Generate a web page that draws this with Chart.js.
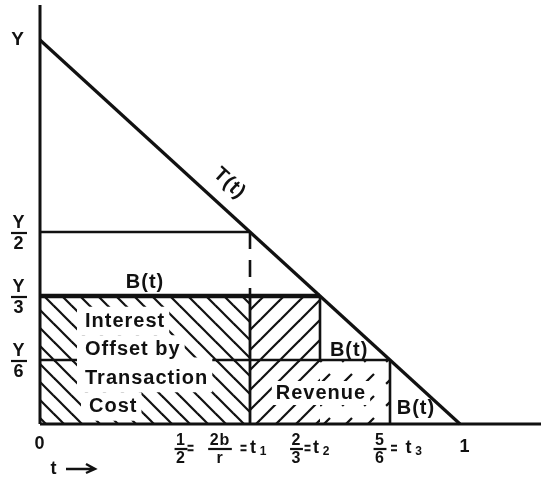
<!DOCTYPE html>
<html>
<head>
<meta charset="utf-8">
<script src="https://cdn.jsdelivr.net/npm/chart.js@4.4.0/dist/chart.umd.min.js"></script>
<style>
html,body{margin:0;padding:0;background:#fff;}
canvas{display:block;}
</style>
</head>
<body>
<canvas id="cashChart" width="541" height="477"></canvas>
<script>
// points in the pay period where bonds are sold (share of the period)
const tPoints = [0, 1/2, 2/3, 5/6, 1];
// cash balance steps B(t), as a share of income Y
const bLevels = [1/2, 1/3, 1/6];
// income at the start of the period, T(t) falls from Y to 0
const incomeStart = 1;

const yTickValues = [1, 1/2, 1/3, 1/6];
const yTickLabels = [["Y"], ["Y","2"], ["Y","3"], ["Y","6"]];

const xTickValues = [0, 1/2, 2/3, 5/6, 1];
const xTickLabels = [
["0"],
[{frac:["1","2"]}, "=", {frac:["2b","r"]}, "=", {sub:["t","1"]}],
[{frac:["2","3"]}, "=", {sub:["t","2"]}],
[{frac:["5","6"]}, "=", {sub:["t","3"]}],
["1"]
];

const areaLabels = ["Interest", "Offset by", "Transaction", "Cost"];
const revenueLabel = "Revenue";
const balanceLabel = "B(t)";
const incomeLabel = "T(t)";

const INK = "#111";
const FONT = '"Liberation Sans", Arial, sans-serif';

/* hatch patterns */

function hatch(size, dir, width, dash){
const c = document.createElement("canvas");
c.width = size;
c.height = size;
const g = c.getContext("2d");
g.strokeStyle = INK;
g.lineWidth = width;
g.lineCap = "butt";
if(dash){
g.setLineDash(dash);
}
for(let k = -1; k <= 1; k++){
g.beginPath();
if(dir === "back"){
g.moveTo(k*size - size, -size);
g.lineTo(k*size + 2*size, 2*size);
}else{
g.moveTo(k*size + 2*size, -size);
g.lineTo(k*size - size, 2*size);
}
g.stroke();
}
return g.createPattern(c, "repeat");
}

const backHatch = hatch(18, "back", 2.2);
const fwdHatch = hatch(20, "fwd", 2.2);
const dashHatch = hatch(22, "fwd", 2.2, [14, 17.1]);

/* datasets */

function seg(points, width, extra){
return Object.assign({
data: points.map(p => ({x:p[0], y:p[1]})),
borderColor: INK,
borderWidth: width,
pointRadius: 0,
tension: 0,
fill: false,
clip: false,
order: 1
}, extra || {});
}

function area(x0, x1, top, pattern){
return {
data: [{x:x0, y:top}, {x:x1, y:top}],
borderWidth: 0,
borderColor: "rgba(0,0,0,0)",
backgroundColor: pattern,
pointRadius: 0,
fill: "origin",
order: 5
};
}

const xMax = 501 / 420;
const yMax = 419 / 384;

const datasets = [
area(tPoints[0], tPoints[1], bLevels[1], backHatch),
area(tPoints[1], tPoints[2], bLevels[1], fwdHatch),
area(tPoints[2], tPoints[3], bLevels[2], dashHatch),

// axes
seg([[0,0],[0,yMax]], 3),
seg([[0,0],[xMax,0]], 3),

// T(t)
seg([[0,incomeStart],[tPoints[4],0]], 3.2),

// B(t) steps
seg([[0,bLevels[0]],[tPoints[1],bLevels[0]]], 2.6),
seg([[0,bLevels[1]],[tPoints[2],bLevels[1]]], 4.5),
seg([[0,bLevels[2]],[tPoints[3],bLevels[2]]], 2.6),

seg([[tPoints[1],bLevels[0]],[tPoints[1],bLevels[1]]], 2.6, {borderDash:[17,11]}),
seg([[tPoints[1],bLevels[1]],[tPoints[1],0]], 2.8),
seg([[tPoints[2],bLevels[1]],[tPoints[2],bLevels[2]]], 2.6),
seg([[tPoints[3],bLevels[2]],[tPoints[3],0]], 2.6)
];

/* lettering */

function put(ctx, s, x, y, size, align){
ctx.font = "bold " + size + "px " + FONT;
ctx.textAlign = align || "center";
ctx.textBaseline = "middle";
ctx.fillText(s, x, y);
}

function fraction(ctx, top, bottom, cx, cy, size){
put(ctx, top, cx, cy - size*0.55, size);
put(ctx, bottom, cx, cy + size*0.62, size);
ctx.font = "bold " + size + "px " + FONT;
const half = Math.max(
ctx.measureText(top).width,
ctx.measureText(bottom).width
) / 2 + 1.5;
ctx.lineWidth = 2.2;
ctx.beginPath();
ctx.moveTo(cx - half, cy);
ctx.lineTo(cx + half, cy);
ctx.stroke();
}

function equals(ctx, cx, cy){
ctx.lineWidth = 2;
ctx.beginPath();
ctx.moveTo(cx - 3, cy - 2.2);
ctx.lineTo(cx + 3, cy - 2.2);
ctx.moveTo(cx - 3, cy + 2.2);
ctx.lineTo(cx + 3, cy + 2.2);
ctx.stroke();
}

// x offsets of each piece of the tick label, from the tick
const xTokenOffsets = [
[0],
[-69, -59.5, -30, -6.5, 3.5],
[-23.5, -12.5, -3.5],
[-10, 4, 19],
[5]
];

const lettering = {
id: "lettering",
afterDatasetsDraw(chart){
const {ctx, scales:{x, y}} = chart;
ctx.save();
ctx.fillStyle = INK;
ctx.strokeStyle = INK;
ctx.letterSpacing = "1px";

const x0 = x.getPixelForValue(0);
const y0 = y.getPixelForValue(0);

// y axis labels
yTickValues.forEach((v, i) => {
const py = y.getPixelForValue(v);
const lab = yTickLabels[i];
if(lab.length === 1){
put(ctx, lab[0], x0 - 22, py, 19);
}else{
fraction(ctx, lab[0], lab[1], x0 - 21, py + 1, 18);
}
});

// x axis labels
xTickValues.forEach((v, i) => {
const px = x.getPixelForValue(v);
xTickLabels[i].forEach((tok, j) => {
const cx = px + xTokenOffsets[i][j];
const cy = y0 + 24;
if(tok === "="){
equals(ctx, cx, cy);
}else if(typeof tok === "string"){
put(ctx, tok, cx, v === 0 ? y0 + 20 : cy - 1, 18);
}else if(tok.frac){
fraction(ctx, tok.frac[0], tok.frac[1], cx, cy + 1, 16);
}else if(tok.sub){
put(ctx, tok.sub[0], cx, cy, 18);
put(ctx, tok.sub[1], cx + 10, cy + 4, 12);
}
});
});

// t -> under the origin
put(ctx, "t", x0 + 14, y0 + 45, 18);
ctx.lineWidth = 2.4;
ctx.beginPath();
ctx.moveTo(x0 + 26, y0 + 45);
ctx.lineTo(x0 + 54, y0 + 45);
ctx.moveTo(x0 + 46, y0 + 40);
ctx.lineTo(x0 + 55, y0 + 45);
ctx.lineTo(x0 + 46, y0 + 49);
ctx.stroke();

// text over the hatched interest area, each line on a white strip
ctx.font = "bold 20px " + FONT;
const rowH = 28.5;
const rows = areaLabels.map((s, i) => ({
s: s,
left: x0 + (i === 3 ? 49 : 45),
cy: y0 - 103 + i*rowH,
w: ctx.measureText(s).width
}));
ctx.fillStyle = "#fff";
rows.forEach(r => ctx.fillRect(r.left - 8, r.cy - rowH/2, r.w + 12, rowH));
// the Y/6 level breaks off between the two middle lines
const midRight = Math.max(rows[1].left + rows[1].w, rows[2].left + rows[2].w);
ctx.fillRect(rows[1].left - 8, rows[1].cy + 8, midRight - rows[1].left + 12, rowH - 14);
ctx.fillStyle = INK;
rows.forEach(r => put(ctx, r.s, r.left, r.cy, 20, "left"));

// revenue
ctx.font = "bold 20px " + FONT;
const rw = ctx.measureText(revenueLabel).width;
const rx = x.getPixelForValue(0.669);
ctx.fillStyle = "#fff";
ctx.fillRect(rx - rw/2 - 4, y0 - 43, rw + 8, 24);
ctx.fillStyle = INK;
put(ctx, revenueLabel, rx, y0 - 31, 20);

// B(t) over each step
put(ctx, balanceLabel, x.getPixelForValue(0.25), y.getPixelForValue(bLevels[1]) - 14, 20);
put(ctx, balanceLabel, x.getPixelForValue(0.736), y.getPixelForValue(bLevels[2]) - 10, 20);
put(ctx, balanceLabel, x.getPixelForValue(0.895), y0 - 16, 20);

// T(t) along the income line
const ax = x.getPixelForValue(0), ay = y.getPixelForValue(incomeStart);
const bx = x.getPixelForValue(1), by = y.getPixelForValue(0);
const ang = Math.atan2(by - ay, bx - ax);
const fx = x.getPixelForValue(0.416);
const fy = y.getPixelForValue(1 - 0.416);
ctx.translate(fx + 22*Math.sin(ang), fy - 22*Math.cos(ang));
ctx.rotate(ang);
put(ctx, incomeLabel, 0, 0, 20);

ctx.restore();
}
};

new Chart(
document.getElementById("cashChart"),
{
type:"line",
data:{
datasets: datasets
},
options:{
responsive:false,
animation:false,
layout:{
padding:{left:40, right:0, top:5, bottom:53}
},
plugins:{
legend:{display:false},
tooltip:{enabled:false}
},
scales:{
x:{type:"linear", min:0, max:xMax, display:false},
y:{type:"linear", min:0, max:yMax, display:false}
}
},
plugins:[lettering]
}
);
</script>
</body>
</html>
